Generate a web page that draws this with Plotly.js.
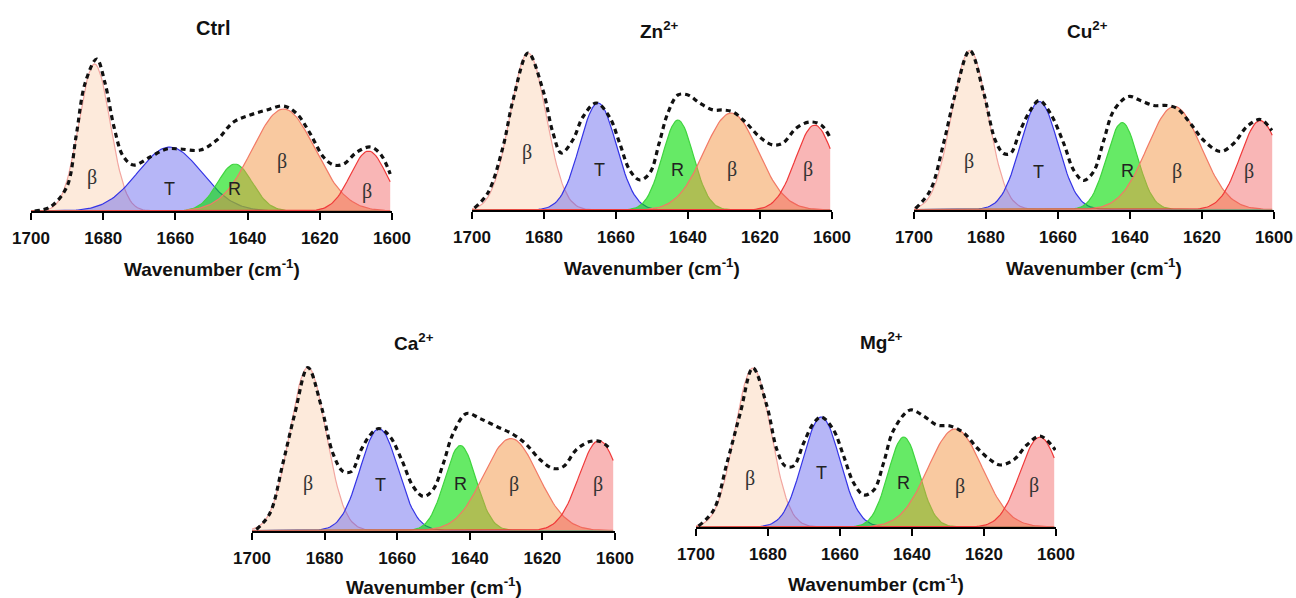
<!DOCTYPE html>
<html><head><meta charset="utf-8">
<script src="https://cdn.plot.ly/plotly-3.0.1.min.js"></script>
<style>html,body{margin:0;padding:0;background:#fff}#chart{width:1296px;height:598px}</style>
</head><body><div id="chart"></div>
<script>
// ---------------- DATA ----------------
const panelTitles = ["Ctrl", "Zn<sup>2+</sup>", "Cu<sup>2+</sup>", "Ca<sup>2+</sup>", "Mg<sup>2+</sup>"];
const bandLabels = ["β", "T", "R", "β", "β"];
const tickValues = [1700, 1680, 1660, 1640, 1620, 1600];
const tickLabels = ["1700", "1680", "1660", "1640", "1620", "1600"];
const axisTitle = "Wavenumber (cm<sup>-1</sup>)";

// Fitted Gaussian bands: centre (cm-1), height (a.u.), sigma (cm-1); order β, T, R, β, β
const ctrlCentres = [1682.4, 1661.6, 1643.5, 1630.0, 1606.5];
const ctrlHeights = [147, 64, 47, 102, 60];
const ctrlSigmas  = [4.3, 8.8, 4.8, 8.7, 5.0];

const znCentres = [1684.4, 1665.0, 1642.8, 1628.0, 1604.8];
const znHeights = [157, 107, 90, 97, 85];
const znSigmas  = [5.0, 5.1, 4.3, 7.5, 5.3];

const cuCentres = [1684.5, 1665.2, 1642.2, 1627.7, 1603.8];
const cuHeights = [159, 108, 87, 103, 89];
const cuSigmas  = [5.0, 5.2, 4.3, 7.5, 5.5];

const caCentres = [1684.6, 1665.0, 1642.6, 1628.7, 1604.4];
const caHeights = [163, 102, 85, 92, 90];
const caSigmas  = [5.0, 5.2, 4.3, 7.5, 5.5];

const mgCentres = [1684.2, 1665.2, 1642.3, 1628.0, 1604.5];
const mgHeights = [159, 110, 90, 98, 90];
const mgSigmas  = [5.0, 5.2, 4.3, 7.5, 5.5];

// Measured amide I spectra (dashed), wavenumber / absorbance (a.u.)
const ctrlSpecX = [1699, 1694.7, 1690.1, 1687.5, 1685, 1681.8, 1679.5, 1677, 1674.5, 1671.6, 1667, 1662.4, 1658.7, 1653.1, 1648.5, 1643.9, 1639.3, 1634.7, 1630, 1626.3, 1622.6, 1619, 1616.2, 1613.4, 1609.7, 1606, 1603.2, 1600.5];
const ctrlSpecY = [0, 4, 24, 75, 128, 152, 128, 84, 55, 46, 54, 62, 62, 61, 71, 89, 96, 101, 105, 97, 77, 54, 46, 47, 59, 64, 57, 37];

const znSpecX = [1699.3, 1695.6, 1691.4, 1688.6, 1684.4, 1680.3, 1677.5, 1675.2, 1672, 1669.2, 1665.5, 1661.8, 1659, 1656.2, 1653.4, 1650.6, 1648, 1645.6, 1642.8, 1640, 1636.8, 1633, 1630.3, 1627.5, 1623.8, 1620.1, 1616.4, 1613.6, 1609.9, 1606.2, 1603, 1600.6];
const znSpecY = [2, 17, 63, 110, 157, 120, 77, 57, 70, 93, 107, 93, 67, 40, 30, 37, 67, 97, 115, 115, 107, 100, 100, 98, 87, 73, 65, 67, 82, 88, 85, 73];

const cuSpecX = [1699.6, 1695.5, 1691.8, 1688.5, 1684.5, 1680.6, 1677.4, 1675.1, 1673.2, 1670.5, 1667.7, 1665.2, 1662.1, 1658.4, 1655.6, 1652.9, 1650.1, 1647.3, 1644.5, 1640.4, 1637.1, 1633.4, 1629.7, 1626.9, 1623.2, 1619.5, 1614.9, 1611.2, 1607.5, 1603.8, 1600.6];
const cuSpecY = [1, 19, 66, 116, 159, 116, 69, 56, 56, 79, 99, 109, 96, 66, 39, 29, 38, 69, 99, 113, 109, 104, 104, 101, 86, 69, 58, 66, 83, 90, 79];

const caSpecX = [1698.8, 1695.1, 1691.5, 1688.2, 1684.6, 1680.9, 1677.7, 1674.9, 1672.6, 1669.9, 1667.1, 1665, 1662, 1658.8, 1655.6, 1652.8, 1650.1, 1647.3, 1644.6, 1640.9, 1637.2, 1632.6, 1628, 1624.4, 1620.7, 1617, 1614.2, 1610.6, 1606.9, 1604.1, 1601.4];
const caSpecY = [1, 17, 67, 117, 163, 124, 77, 59, 59, 81, 97, 102, 94, 71, 44, 34, 41, 67, 97, 117, 112, 104, 96, 86, 71, 62, 64, 81, 89, 89, 82];

const mgSpecX = [1699.3, 1695.1, 1691.4, 1687.7, 1684.2, 1680.3, 1677.5, 1675.2, 1672.9, 1670.1, 1667.3, 1665.2, 1661.8, 1659, 1656.2, 1653.4, 1650.6, 1647.9, 1645.1, 1640.5, 1636.8, 1633.1, 1629.4, 1625.6, 1621.9, 1618.2, 1615.5, 1611.8, 1608.1, 1604.4, 1600.2];
const mgSpecY = [1, 17, 64, 114, 159, 121, 77, 61, 61, 84, 104, 110, 97, 71, 44, 32, 37, 64, 97, 117, 111, 102, 101, 94, 79, 67, 62, 67, 82, 91, 77];

// ---------------- LAYOUT / STYLE ----------------
const W = 1296, H = 598, PLOT_H = 166;
// [x of 1700, x of 1600, baseline y] in pixels
const geom = [[31, 392, 211], [472, 832, 210], [914, 1274, 209.5], [252, 615, 530.5], [696, 1056, 527]];
const titlePos = [[213, 28], [659, 30], [1087, 30], [414, 342], [881, 341]];
const titleSizes = [20, 19, 19, 19, 19];
const axisTitleGap = [57, 57, 57, 55, 56];
const labelPos = [
  [[1683, 34], [1661.5, 22], [1643.6, 22], [1630.5, 50], [1607, 20]],
  [[1684.7, 57], [1664.5, 40], [1643, 40], [1627.7, 40], [1606.7, 40]],
  [[1684.6, 48], [1665.4, 38], [1640.8, 39], [1626.9, 38], [1607, 38]],
  [[1684.6, 47], [1664.5, 46], [1642.7, 47], [1627.8, 46], [1604.6, 46]],
  [[1684.9, 49], [1665.2, 54], [1642.3, 44], [1626.6, 41], [1606.2, 42]]
];
const fillColors = ["rgba(250,204,170,0.42)", "rgba(80,80,235,0.42)", "rgba(0,220,0,0.6)", "rgba(243,147,65,0.5)", "rgba(240,80,80,0.42)"];
const lineColors = ["#f2a6a0", "#3434e6", "#3fd43f", "#f27a66", "#f03a3a"];

const bands = [
  [ctrlCentres, ctrlHeights, ctrlSigmas], [znCentres, znHeights, znSigmas], [cuCentres, cuHeights, cuSigmas],
  [caCentres, caHeights, caSigmas], [mgCentres, mgHeights, mgSigmas]
];
const spectra = [[ctrlSpecX, ctrlSpecY], [znSpecX, znSpecY], [cuSpecX, cuSpecY], [caSpecX, caSpecY], [mgSpecX, mgSpecY]];

const grid = [];
for (let v = 1700; v >= 1600.5; v -= 0.5) grid.push(v);

const traces = [];
const layout = {
  width: W, height: H, margin: {l: 0, r: 0, t: 0, b: 0},
  paper_bgcolor: "#fff", plot_bgcolor: "rgba(0,0,0,0)", showlegend: false,
  font: {family: "Liberation Sans, Arial, sans-serif", size: 14, color: "#111"},
  annotations: []
};

for (let p = 0; p < 5; p++) {
  const sfx = p === 0 ? "" : String(p + 1);
  const xa = "x" + sfx, ya = "y" + sfx;
  const [cen, hgt, sig] = bands[p];
  for (let b = 0; b < 5; b++) {
    traces.push({
      type: "scatter", mode: "lines", xaxis: xa, yaxis: ya,
      x: grid, y: grid.map(v => hgt[b] * Math.exp(-Math.pow(v - cen[b], 2) / (2 * sig[b] * sig[b]))),
      fill: "tozeroy", fillcolor: fillColors[b],
      line: {color: lineColors[b], width: 1.2}, hoverinfo: "skip"
    });
  }
  traces.push({
    type: "scatter", mode: "lines", xaxis: xa, yaxis: ya,
    x: spectra[p][0], y: spectra[p][1],
    line: {color: "#111", width: 3.2, dash: "5px,4px", shape: "spline", smoothing: 1},
    hoverinfo: "skip"
  });
  const [x0, x1, base] = geom[p];
  layout["xaxis" + sfx] = {
    domain: [x0 / W, x1 / W], range: [1700, 1600], anchor: ya,
    tickmode: "array", tickvals: tickValues, ticktext: tickLabels,
    showgrid: false, zeroline: false, showline: true, linecolor: "#000", linewidth: 2,
    ticks: "outside", ticklen: 7, tickwidth: 2, tickcolor: "#000",
    ticklabelstandoff: 4,
    tickfont: {family: "Liberation Sans, Arial, sans-serif", size: 17, weight: 700, color: "#111"},
    fixedrange: true
  };
  layout["yaxis" + sfx] = {
    domain: [1 - base / H, 1 - (base - PLOT_H) / H], range: [0, PLOT_H], anchor: xa,
    visible: false, showgrid: false, zeroline: false, fixedrange: true
  };
  layout.annotations.push({
    xref: "paper", yref: "paper", x: titlePos[p][0] / W, y: 1 - titlePos[p][1] / H,
    xanchor: "center", yanchor: "middle", showarrow: false, text: panelTitles[p],
    font: {family: "Liberation Sans, Arial, sans-serif", size: titleSizes[p], weight: 700, color: "#111"}
  });
  layout.annotations.push({
    xref: "paper", yref: "paper", x: (x0 + x1) / 2 / W, y: 1 - (base + axisTitleGap[p]) / H,
    xanchor: "center", yanchor: "middle", showarrow: false, text: axisTitle,
    font: {family: "Liberation Sans, Arial, sans-serif", size: 19, weight: 700, color: "#111"}
  });
  for (let b = 0; b < 5; b++) {
    const isBeta = bandLabels[b] === "β";
    layout.annotations.push({
      xref: xa, yref: ya, x: labelPos[p][b][0], y: labelPos[p][b][1],
      xanchor: "center", yanchor: "middle", showarrow: false, text: bandLabels[b],
      font: isBeta ? {family: "Liberation Serif, Times New Roman, serif", size: 20, color: "#333"}
                   : {family: "Liberation Sans, Arial, sans-serif", size: 18, color: "#222"}
    });
  }
}

Plotly.newPlot("chart", traces, layout, {staticPlot: true, displayModeBar: false});
</script>
</body></html>
